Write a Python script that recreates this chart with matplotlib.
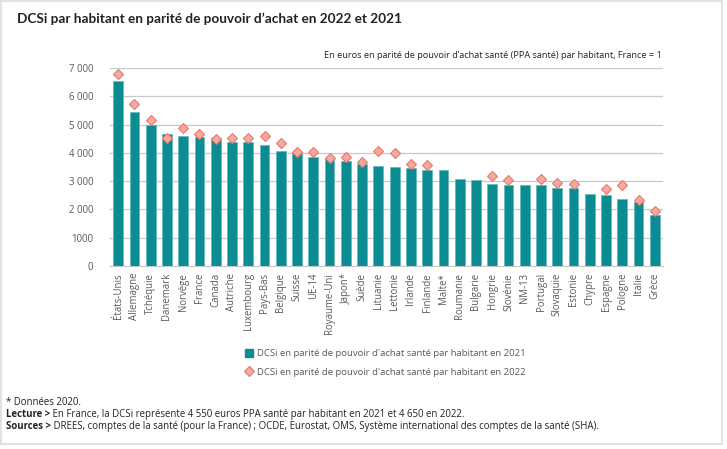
import numpy as np
import matplotlib.pyplot as plt
from matplotlib.patches import Rectangle
from matplotlib.lines import Line2D

plt.rcParams['font.family'] = ['Open Sans', 'DejaVu Sans']

# données (euros PPA santé par habitant)
pays = ['États-Unis', 'Allemagne', 'Tchéquie', 'Danemark', 'Norvège', 'France', 'Canada',
        'Autriche', 'Luxembourg', 'Pays-Bas', 'Belgique', 'Suisse', 'UE-14', 'Royaume-Uni',
        'Japon*', 'Suède', 'Lituanie', 'Lettonie', 'Irlande', 'Finlande', 'Malte*', 'Roumanie',
        'Bulgarie', 'Hongrie', 'Slovénie', 'NM-13', 'Portugal', 'Slovaquie', 'Estonie',
        'Chypre', 'Espagne', 'Pologne', 'Italie', 'Grèce']
dcsi_2021 = [6525, 5460, 4990, 4655, 4590, 4550, 4540, 4400, 4385, 4265, 4055, 4020,
             3865, 3805, 3700, 3595, 3535, 3487, 3452, 3381, 3381, 3061, 3050, 2884,
             2872, 2861, 2849, 2754, 2742, 2530, 2518, 2352, 2258, 1820]
dcsi_2022 = [6785, 5735, 5165, 4515, 4895, 4650, 4490, 4525, 4540, 4600, 4360, 4045,
             4045, 3830, 3855, 3690, 4080, 4007, 3605, 3570, np.nan, np.nan, np.nan, 3168,
             3026, np.nan, 3061, 2943, 2908, np.nan, 2707, 2872, 2340, 1950]

yticks = [0, 1000, 2000, 3000, 4000, 5000, 6000, 7000]
ylabels = ['0', '1000', '2 000', '3 000', '4 000', '5 000', '6 000', '7 000']

lab_2021 = "DCSi en parité de pouvoir d'achat santé par habitant en 2021"
lab_2022 = "DCSi en parité de pouvoir d'achat santé par habitant en 2022"

teal = '#0b8c92'
grey_txt = '#595959'
dark = '#222222'

fig = plt.figure(figsize=(7.27, 4.49), dpi=100)
ax = fig.add_axes([110/727, 1-266/449, 553/727, 198/449])

x = np.arange(len(pays))
ax.bar(x, dcsi_2021, width=0.6, color=teal, edgecolor='#5fb8bb', linewidth=0.5, zorder=2)
ax.plot(x, dcsi_2022, linestyle='none', marker='D', markersize=4.6, markerfacecolor='#f6a9a1',
        markeredgecolor='#e8776c', markeredgewidth=0.8, zorder=3)

ax.set_xlim(-0.5, len(pays) - 0.5)
ax.set_ylim(0, 7000)
ax.set_yticks(yticks)
ax.set_yticklabels(ylabels)
ax.set_xticks(x)
ax.set_xticklabels(pays, rotation=90)
ax.tick_params(axis='both', length=0, labelsize=6.9, colors=grey_txt)
ax.tick_params(axis='y', pad=12)
ax.tick_params(axis='x', pad=5)
ax.grid(axis='y', color='#c8c8c8', linewidth=0.9, zorder=0)
for s in ['top', 'right', 'left']:
    ax.spines[s].set_visible(False)
ax.spines['bottom'].set_color('#c8c8c8')
ax.set_axisbelow(True)

h1 = Line2D([], [], linestyle='none', marker='s', markersize=5.5, color=teal)
h2 = Line2D([], [], linestyle='none', marker='D', markersize=4.6, markerfacecolor='#f6a9a1',
            markeredgecolor='#e8776c', markeredgewidth=0.8)
leg = fig.legend([h1, h2], [lab_2021, lab_2022], loc='center',
                 bbox_to_anchor=(386/727, 1-363/449), frameon=False,
                 fontsize=6.8, handlelength=0.6, handletextpad=0.5, labelspacing=1.0,
                 borderpad=0)
for t in leg.get_texts():
    t.set_color(grey_txt)

fig.text(17/727, 1-23/449, "DCSi par habitant en parité de pouvoir d’achat en 2022 et 2021",
         fontsize=9.8, fontweight='bold', family=['Lato', 'DejaVu Sans'], color=dark,
         va='baseline')
fig.text(662/727, 1-58/449,
         "En euros en parité de pouvoir d’achat santé (PPA santé) par habitant, France = 1",
         fontsize=6.6, color=dark, ha='right', va='baseline')

fig.text(6/727, 1-405/449, "* Données 2020.", fontsize=6.9, color=dark, va='baseline')

# lignes avec un début en gras
renderer = fig.canvas.get_renderer()
notes = [("Lecture >", " En France, la DCSi représente 4 550 euros PPA santé par habitant "
          "en 2021 et 4 650 en 2022.", 417),
         ("Sources >", " DREES, comptes de la santé (pour la France) ; OCDE, Eurostat, OMS, "
          "Système international des comptes de la santé (SHA).", 429)]
for bold, rest, ypx in notes:
    tb = fig.text(6/727, 1-ypx/449, bold, fontsize=6.9, fontweight='bold', color=dark,
                  va='baseline')
    bb = tb.get_window_extent(renderer)
    fig.text(bb.x1/727, 1-ypx/449, rest, fontsize=6.9, color=dark, va='baseline')

fig.patches.append(Rectangle((1/727, 1-444/449), 721/727, 443/449, transform=fig.transFigure,
                             fill=False, edgecolor='#e6e1dc', linewidth=1.5))

fig.savefig('out.png', dpi=100)
